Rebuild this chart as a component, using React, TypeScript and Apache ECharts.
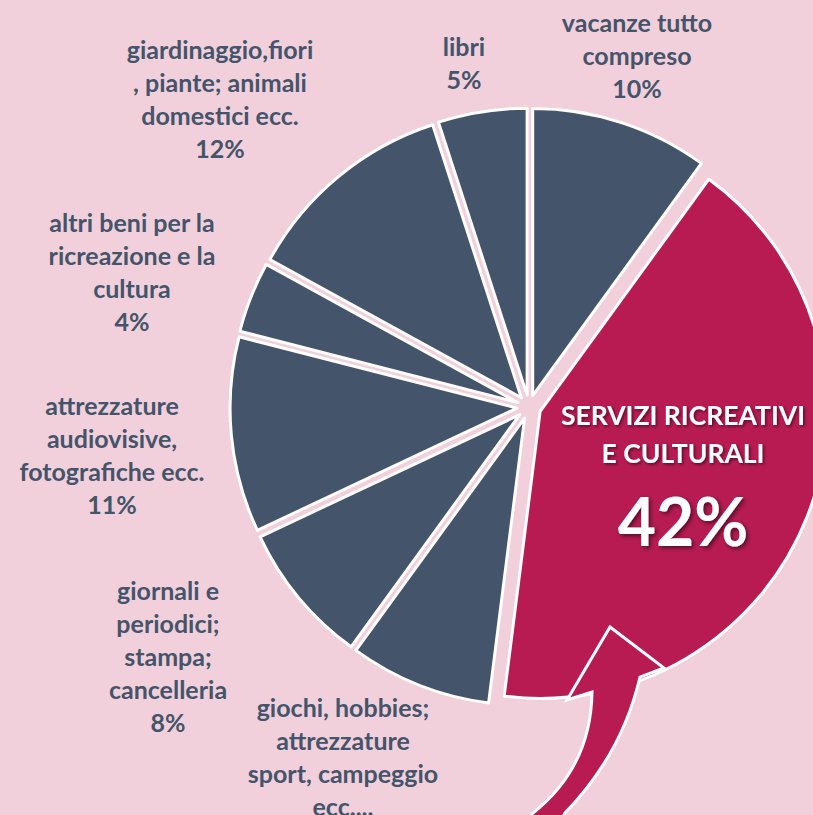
import React, { useEffect, useRef } from "react";
import * as echarts from "echarts";

const categories = [
  "vacanze tutto\ncompreso",
  "SERVIZI RICREATIVI\nE CULTURALI",
  "giochi, hobbies;\nattrezzature\nsport, campeggio\necc....",
  "giornali e\nperiodici;\nstampa;\ncancelleria",
  "attrezzature\naudiovisive,\nfotografiche ecc.",
  "altri beni per la\nricreazione e la\ncultura",
  "giardinaggio,fiori\n, piante; animali\ndomestici ecc.",
  "libri",
];
const shares = [10, 42, 8, 8, 11, 4, 12, 5];
const highlightIndex = 1;

// label anchor points (centre of each label block) — layout, not data
const labelAnchors: [number, number][] = [
  [637, 55],
  [683, 434],
  [343, 773],
  [168, 656],
  [112, 454],
  [132, 271],
  [220, 98],
  [464, 62],
];
const highlightPercentY = 520;

const BG = "#F1D0DB";
const SLATE = "#44546A";
const CRIMSON = "#B71B52";

const arrowPath =
  "M 522 830 L 533 813 Q 591 767 592 692 L 567 700 L 610 627 L 664 668 L 640 677 Q 622 754 565 813 L 556 830 Z";

echarts.graphic.registerShape("bigArrow", echarts.graphic.extendPath(arrowPath, {}) as any);

export default function App() {
  const ref = useRef<HTMLDivElement>(null);
  useEffect(() => {
    if (!ref.current) return;
    const chart = echarts.init(ref.current, null, { renderer: "svg" });
    const data = categories.map((name, i) => ({
      name,
      value: shares[i],
      selected: true,
      itemStyle: { color: i === highlightIndex ? CRIMSON : SLATE },
    }));

    const labelTexts: any[] = [];
    categories.forEach((name, i) => {
      const [x, y] = labelAnchors[i];
      if (i === highlightIndex) {
        labelTexts.push({
          type: "text",
          z: 110,
          silent: true,
          style: {
            text: name,
            x,
            y,
            fill: "#FFFFFF",
            fontFamily: "Lato",
            fontWeight: "bold",
            fontSize: 26.5,
            lineHeight: 38,
            align: "center",
            verticalAlign: "middle",
            textShadowColor: "rgba(0,0,0,0.55)",
            textShadowBlur: 3,
            textShadowOffsetX: 1.5,
            textShadowOffsetY: 1.5,
          },
        });
        labelTexts.push({
          type: "text",
          z: 110,
          silent: true,
          style: {
            text: `${shares[i]}%`,
            x,
            y: highlightPercentY,
            fill: "#FFFFFF",
            fontFamily: "Lato",
            fontWeight: "bold",
            fontSize: 66,
            align: "center",
            verticalAlign: "middle",
            textShadowColor: "rgba(0,0,0,0.55)",
            textShadowBlur: 4,
            textShadowOffsetX: 2,
            textShadowOffsetY: 2,
          },
        });
      } else {
        labelTexts.push({
          type: "text",
          z: 110,
          silent: true,
          style: {
            text: `${name}\n${shares[i]}%`,
            x,
            y,
            fill: SLATE,
            fontFamily: "Lato",
            fontWeight: "bold",
            fontSize: 25,
            lineHeight: 33,
            align: "center",
            verticalAlign: "middle",
          },
        });
      }
    });

    chart.setOption({
      animation: false,
      backgroundColor: BG,
      series: [
        {
          type: "pie",
          center: [529, 407],
          radius: [0, 287],
          startAngle: 90,
          clockwise: true,
          selectedMode: "multiple",
          selectedOffset: 12,
          emphasis: { disabled: true },
          itemStyle: { borderColor: "#FFFFFF", borderWidth: 3 },
          label: { show: false },
          labelLine: { show: false },
          data,
        },
      ],
      graphic: [
        {
          type: "bigArrow",
          x: 0,
          y: 0,
          z: 100,
          silent: true,
          style: { fill: CRIMSON, stroke: "#FFFFFF", lineWidth: 3, lineJoin: "miter" },
        },
        ...labelTexts,
      ],
    });
    return () => chart.dispose();
  }, []);
  return (
    <div
      ref={ref}
      style={{ position: "fixed", left: 0, top: 0, width: 813, height: 815 }}
    />
  );
}
